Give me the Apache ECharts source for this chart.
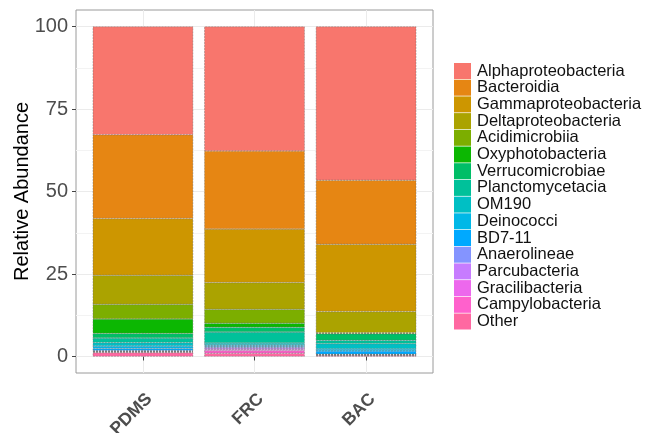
<!DOCTYPE html>
<html>
<head>
<meta charset="utf-8">
<script src="https://cdn.jsdelivr.net/npm/echarts@6/dist/echarts.min.js"></script>
<style>
  html, body { margin: 0; padding: 0; background: #ffffff; }
  #chart { width: 650px; height: 433px; }
</style>
</head>
<body>
<div id="chart"></div>
<script>
// Samples along the x axis and the y tick marks
const samples = ['PDMS', 'FRC', 'BAC'];
const yTicks = [0, 25, 50, 75, 100];
const yMinorTicks = [12.5, 37.5, 62.5, 87.5];

// Taxonomic classes, listed top of the stack first
const classNames = [
  'Alphaproteobacteria', 'Bacteroidia', 'Gammaproteobacteria', 'Deltaproteobacteria',
  'Acidimicrobiia', 'Oxyphotobacteria', 'Verrucomicrobiae', 'Planctomycetacia',
  'OM190', 'Deinococci', 'BD7-11', 'Anaerolineae', 'Parcubacteria',
  'Gracilibacteria', 'Campylobacteria', 'Other'
];

// Relative abundance (%) per class, in sample order PDMS, FRC, BAC
const alphaproteobacteria = [32.8, 37.7, 46.6];
const bacteroidia         = [25.4, 23.7, 19.4];
const gammaproteobacteria = [17.2, 16.2, 20.4];
const deltaproteobacteria = [8.8, 8.1, 6.4];
const acidimicrobiia      = [4.4, 4.2, 0.2];
const oxyphotobacteria    = [4.4, 1.2, 0.1];
const verrucomicrobiae    = [1.4, 1.5, 2.0];
const planctomycetacia    = [1.4, 3.3, 1.0];
const om190               = [1.0, 0.6, 1.6];
const deinococci          = [0.8, 0.3, 0.6];
const bd7_11              = [0.6, 0.3, 1.0];
const anaerolineae        = [0.2, 0.3, 0.1];
const parcubacteria       = [0.1, 0.4, 0.1];
const gracilibacteria     = [0.1, 0.4, 0.1];
const campylobacteria     = [0.2, 0.8, 0.1];
const other               = [1.2, 1.0, 0.3];

const abundance = [
  alphaproteobacteria, bacteroidia, gammaproteobacteria, deltaproteobacteria,
  acidimicrobiia, oxyphotobacteria, verrucomicrobiae, planctomycetacia,
  om190, deinococci, bd7_11, anaerolineae, parcubacteria,
  gracilibacteria, campylobacteria, other
];

// Evenly spaced hue palette, one colour per class
const palette = [
  '#F8766D', '#E68613', '#CD9600', '#ABA300', '#7CAE00', '#0CB702',
  '#00BE67', '#00C19A', '#00BFC4', '#00B8E7', '#00A9FF', '#8494FF',
  '#C77CFF', '#ED68ED', '#FF61CC', '#FF68A1'
];

const font = 'Liberation Sans, Arial, sans-serif';
const positions = samples.map((s, i) => i + 1);

// Panel geometry: the frame spans x 0.4..3.6 in sample units,
// the bar area spans 0.5..3.5 so each category band is one unit wide.
const panel = { left: 76, top: 10, width: 357, height: 363 };
const unit = panel.width / 3.2;

// Stack from the bottom up: last class first
const series = [];
for (let k = classNames.length - 1; k >= 0; k--) {
  series.push({
    name: classNames[k],
    type: 'bar',
    stack: 'abundance',
    xAxisIndex: 1,
    yAxisIndex: 2,
    barCategoryGap: '10%',
    data: abundance[k],
    itemStyle: {
      color: palette[k],
      borderColor: 'rgba(105,105,105,0.8)',
      borderWidth: 0.5,
      borderType: 'dashed'
    },
    emphasis: { disabled: true }
  });
}

const chart = echarts.init(document.getElementById('chart'), null, { renderer: 'canvas' });
chart.setOption({
  animation: false,
  backgroundColor: '#ffffff',
  grid: [{
    // frame, grid lines and axis labels
    left: panel.left, top: panel.top, width: panel.width, height: panel.height,
    show: true,
    borderColor: '#9a9a9a',
    borderWidth: 1,
    backgroundColor: '#ffffff',
    containLabel: false,
    outerBoundsMode: 'none'
  }, {
    // bar area
    left: panel.left + 0.1 * unit, top: panel.top, width: 3 * unit, height: panel.height,
    containLabel: false,
    outerBoundsMode: 'none'
  }],
  legend: {
    data: classNames,
    orient: 'vertical',
    left: 449,
    top: 57.5,
    itemWidth: 17,
    itemHeight: 16,
    itemGap: -0.3,
    icon: 'rect',
    selectedMode: false,
    itemStyle: { borderWidth: 0 },
    textStyle: { fontFamily: font, fontSize: 16.5, color: '#111', padding: [0, 0, 0, 1] }
  },
  xAxis: [{
    gridIndex: 0,
    type: 'value',
    min: 0.4,
    max: 3.6,
    axisLine: { show: false },
    axisTick: { show: true, customValues: positions, length: 4, lineStyle: { color: '#444', width: 1 } },
    axisLabel: {
      customValues: positions,
      formatter: v => samples[Math.round(v) - 1],
      rotate: 45,
      margin: 17,
      verticalAlign: 'top',
      fontFamily: font,
      fontSize: 17.5,
      fontWeight: 'bold',
      color: '#4d4d4d'
    },
    splitLine: { show: true, lineStyle: { color: '#ebebeb', width: 1 } }
  }, {
    gridIndex: 1,
    type: 'category',
    data: samples,
    show: false
  }],
  yAxis: [{
    gridIndex: 0,
    type: 'value',
    min: -5,
    max: 105,
    name: 'Relative Abundance',
    nameLocation: 'middle',
    nameGap: 44,
    nameMoveOverlap: false,
    nameTextStyle: { fontFamily: font, fontSize: 20, color: '#000' },
    axisLine: { show: false },
    axisTick: { show: true, customValues: yTicks, length: 4, lineStyle: { color: '#444', width: 1 } },
    axisLabel: { customValues: yTicks, margin: 8, fontFamily: font, fontSize: 20, color: '#4d4d4d' },
    splitLine: { show: true, lineStyle: { color: '#ebebeb', width: 1 } }
  }, {
    gridIndex: 0,
    type: 'value',
    min: -5,
    max: 105,
    position: 'left',
    axisLine: { show: false },
    axisTick: { show: false, customValues: yMinorTicks },
    axisLabel: { show: false, customValues: yMinorTicks },
    splitLine: { show: true, lineStyle: { color: '#f3f3f3', width: 1 } }
  }, {
    gridIndex: 1,
    type: 'value',
    min: -5,
    max: 105,
    show: false,
    splitLine: { show: false }
  }],
  series: series
});
</script>
</body>
</html>
